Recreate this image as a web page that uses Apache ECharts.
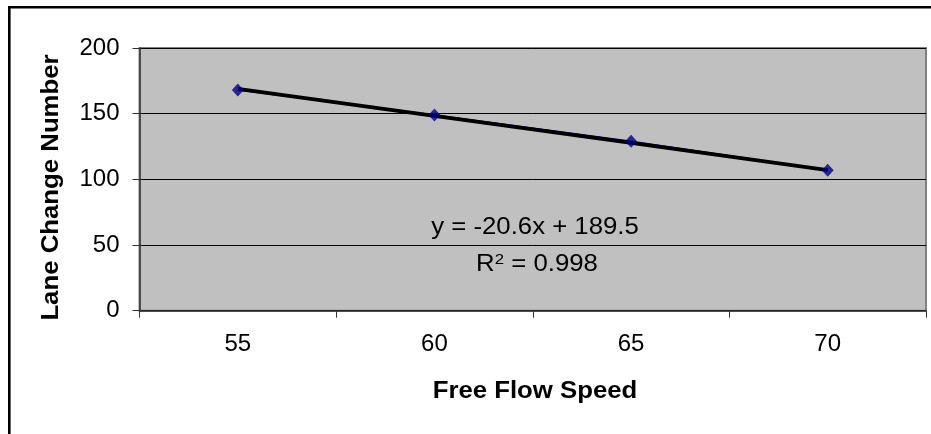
<!DOCTYPE html>
<html>
<head>
<meta charset="utf-8">
<script src="https://cdn.jsdelivr.net/npm/echarts@6/dist/echarts.min.js"></script>
<style>
html,body{margin:0;padding:0;background:#fff;}
#chart{width:931px;height:434px;}
</style>
</head>
<body>
<div id="chart"></div>
<script>
const categories = ['55', '60', '65', '70'];
const laneChanges = [168, 149, 129, 107];
const trendValues = [168.9, 148.3, 127.7, 107.1];
const yTicks = [0, 50, 100, 150, 200];
const xTitle = 'Free Flow Speed';
const yTitle = 'Lane Change Number';
const equationText = 'y = -20.6x + 189.5';
const r2Text = '0.998';

const FONT = '"Liberation Sans", Arial, sans-serif';
const STRETCH = 1.12;
const chart = echarts.init(document.getElementById('chart'), null, {renderer: 'canvas'});

const option = {
  animation: false,
  backgroundColor: '#ffffff',
  grid: {
    left: 139.5, top: 48, right: 5, bottom: 123.3,
    show: true, backgroundColor: '#C0C0C0', borderColor: '#808080', borderWidth: 2
  },
  xAxis: {
    type: 'category',
    data: categories,
    boundaryGap: true,
    axisLine: {show: true, lineStyle: {color: '#333', width: 1.5}},
    axisTick: {show: true, length: 7, lineStyle: {color: '#333', width: 1}},
    axisLabel: {margin: 22, fontFamily: FONT, fontSize: 24, color: '#000'},
    splitLine: {show: false}
  },
  yAxis: {
    type: 'value',
    min: yTicks[0],
    max: yTicks[yTicks.length - 1],
    interval: yTicks[1] - yTicks[0],
    axisLine: {show: true, lineStyle: {color: '#333', width: 1.5}},
    axisTick: {show: true, length: 7, lineStyle: {color: '#333', width: 1}},
    axisLabel: {margin: 20, fontFamily: FONT, fontSize: 24, color: '#000'},
    splitLine: {show: true, lineStyle: {color: '#000', width: 1}}
  },
  series: [
    {
      name: 'data line',
      type: 'line',
      data: laneChanges,
      symbol: 'none',
      lineStyle: {color: '#000080', width: 1.5},
      z: 2
    },
    {
      name: 'trend',
      type: 'line',
      data: trendValues,
      symbol: 'none',
      lineStyle: {color: '#000000', width: 3.8},
      z: 3
    },
    {
      name: 'points',
      type: 'scatter',
      data: laneChanges,
      symbol: 'diamond',
      symbolSize: [12, 13],
      itemStyle: {color: '#000080'},
      z: 4
    }
  ],
  graphic: [
    {
      type: 'rect',
      shape: {x: 9.3, y: 7.3, width: 1200, height: 1200},
      style: {fill: 'none', stroke: '#000', lineWidth: 2.6},
      silent: true, z: 100
    },
    {
      type: 'text',
      x: 535, y: 392,
      scaleX: STRETCH,
      style: {
        text: xTitle,
        font: 'bold 23px ' + FONT,
        fill: '#000',
        textAlign: 'center',
        textVerticalAlign: 'middle'
      },
      z: 50
    },
    {
      type: 'text',
      x: 51.5, y: 187.5,
      rotation: Math.PI / 2,
      scaleX: STRETCH,
      style: {
        text: yTitle,
        font: 'bold 23px ' + FONT,
        fill: '#000',
        textAlign: 'center',
        textVerticalAlign: 'middle'
      },
      z: 50
    },
    {
      type: 'text',
      x: 535, y: 228,
      scaleX: STRETCH,
      style: {
        text: equationText,
        font: '23px ' + FONT,
        fill: '#000',
        textAlign: 'center',
        textVerticalAlign: 'middle'
      },
      z: 50
    },
    {
      type: 'text',
      x: 537, y: 264,
      scaleX: STRETCH,
      style: {
        text: '{a|R}{s|2}{a| = ' + r2Text + '}',
        rich: {
          a: {font: '23px ' + FONT, fill: '#000', verticalAlign: 'bottom'},
          s: {font: '15px ' + FONT, fill: '#000', verticalAlign: 'top', padding: [0, 0, 9, 0]}
        },
        textAlign: 'center',
        textVerticalAlign: 'middle'
      },
      z: 50
    }
  ]
};
chart.setOption(option);
</script>
</body>
</html>
